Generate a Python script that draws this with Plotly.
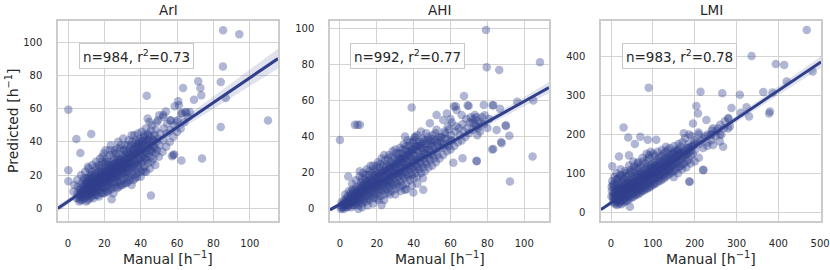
import numpy as np
import plotly.graph_objects as go

# ---------------- data ----------------
titles = ["ArI", "AHI", "LMI"]
stat_labels = ["n=984, r<sup>2</sup>=0.73", "n=992, r<sup>2</sup>=0.77", "n=983, r<sup>2</sup>=0.78"]
x_label = "Manual [h<sup>−1</sup>]"
y_label = "Predicted [h<sup>−1</sup>]"

ari_points = [
    (3,10),(3.5,14),(4.8,6),(5.2,9),(5.5,13),(5,17),(6.2,4),(6,8),(6.5,11),(7,7),(7.3,10),(6.8,12),(7.5,15),(7.2,20),
    (8,5),(8.3,9),(8.1,13),(8.6,11),(8.4,17),(9,6),(9.2,8),(9.5,12),(9.1,14),(9.7,16),(9.4,22),(10,7),(10.3,10),(10.6,12),
    (10.2,15),(10.8,18),(10.5,11),(11,5),(11.3,9),(11.5,13),(11.2,16),(11.7,20),(11.4,24),(12,8),(12.3,11),(12.6,14),
    (12.2,17),(12.8,12),(12.5,19),(13,7),(13.2,10),(13.5,13),(13.3,15),(13.7,18),(13.1,22),(13.4,26),(14,9),(14.3,12),
    (14.6,14),(14.2,17),(14.8,20),(14.5,16),(15,8),(15.2,11),(15.5,15),(15.3,13),(15.8,18),(15.1,21),(15.6,25),(15.4,28),
    (16,10),(16.3,13),(16.6,16),(16.2,19),(16.8,22),(16.5,14),(17,7),(17.3,12),(17.5,15),(17.2,17),(17.8,20),(17.4,24),
    (17.6,30),(18,11),(18.3,14),(18.6,17),(18.2,19),(18.8,22),(18.5,26),(18.4,16),(19,9),(19.2,13),(19.5,18),(19.3,21),
    (19.7,24),(19.1,28),(19.6,33),(20,12),(20.3,15),(20.6,17),(20.2,20),(20.8,23),(20.5,19),(20.4,27),(20.7,35),(21,10),
    (21.3,14),(21.5,18),(21.2,22),(21.8,25),(21.4,30),(22,13),(22.3,16),(22.6,19),(22.2,21),(22.8,24),(22.5,28),(22.4,17),
    (23,11),(23.2,15),(23.5,20),(23.3,23),(23.7,26),(23.1,32),(23.6,38),(24,14),(24.3,18),(24.6,21),(24.2,25),(24.8,28),
    (24.5,22),(25,9),(25.3,16),(25.5,19),(25.2,23),(25.8,27),(25.4,30),(25.6,35),(26,15),(26.3,18),(26.6,22),(26.2,24),
    (26.8,29),(26.5,33),(26.4,20),(27,12),(27.3,17),(27.5,21),(27.2,25),(27.8,28),(27.4,31),(27.6,40),(28,16),(28.3,20),
    (28.6,23),(28.2,26),(28.8,30),(28.5,36),(29,14),(29.3,19),(29.5,24),(29.2,27),(29.8,32),(29.4,22),(30,17),(30.3,21),
    (30.6,25),(30.2,28),(30.8,31),(30.5,35),(30.4,42),(31,15),(31.3,20),(31.5,24),(31.2,27),(31.8,33),(31.4,38),(32,18),
    (32.3,22),(32.6,26),(32.2,29),(32.8,34),(32.5,25),(33,16),(33.3,21),(33.5,27),(33.2,30),(33.8,36),(33.4,41),(34,19),
    (34.3,24),(34.6,28),(34.2,32),(34.8,38),(34.5,26),(35,14),(35.3,22),(35.5,27),(35.2,31),(35.8,35),(35.4,40),(36,20),
    (36.3,25),(36.6,29),(36.2,33),(36.8,37),(36.5,44),(37,18),(37.3,23),(37.5,28),(37.2,32),(37.8,36),(37.4,41),(38,21),
    (38.3,26),(38.6,30),(38.2,34),(38.8,39),(38.5,45),(39,24),(39.3,29),(39.5,33),(39.2,37),(39.8,42),(40,19),(40.3,27),
    (40.6,31),(40.2,35),(40.8,40),(40.5,46),(41,23),(41.3,28),(41.5,32),(41.2,38),(41.8,43),(42,25),(42.3,30),(42.6,34),
    (42.2,39),(42.8,48),(43,22),(43.3,29),(43.5,36),(43.2,41),(43.8,45),(44,27),(44.3,33),(44.6,38),(44.2,44),(44.8,52),
    (45,24),(45.3,31),(45.5,35),(45.2,40),(45.8,47),(46,28),(46.3,34),(46.6,42),(46.2,50),(47,30),(47.3,37),(47.5,44),
    (48,26),(48.3,33),(48.6,40),(48.2,47),(49,35),(49.3,42),(49.5,53),(50,31),(50.3,38),(50.6,45),(50.2,56),(52,34),
    (52.3,41),(52.6,48),(52.4,55),(54,37),(54.3,45),(54.6,51),(56,40),(56.3,47),(56.4,53),(58,43),(58.5,50),(60,46),
    (60.4,53),(62,48),(62.5,57),(64,52),(64.5,58),(66,55),
    # denser core
    (6,6),(7,9),(8,7),(8.8,10),(9.8,9),(10.4,13),(11.1,11),(11.8,14),(12.4,9),(12.9,16),(13.6,11),(14.1,15),(14.7,11),
    (15.3,17),(15.9,14),(16.4,18),(16.9,12),(17.3,19),(17.9,16),(18.1,21),(18.7,13),(19.2,19),(19.8,16),(20.1,22),
    (20.9,18),(21.4,20),(21.9,16),(22.1,23),(22.7,26),(23.3,18),(23.9,21),(24.1,24),(24.7,19),(25.1,26),(25.7,21),
    (26.1,27),(26.7,25),(27.1,19),(27.9,23),(28.1,28),(28.7,24),(29.1,29),(29.7,26),(30.1,24),(30.9,29),(31.1,22),
    (31.6,30),(32.1,27),(32.9,31),(33.1,24),(33.7,33),(34.1,30),(34.9,34),(35.1,25),(35.9,32),(36.1,36),(36.9,27),
    (37.1,39),(37.9,33),(38.1,37),(38.9,28),(39.1,40),(39.9,35),(40.1,38),(40.9,33),(41.1,41),(41.9,36),(42.1,44),
    (42.9,31),(43.1,39),(44.1,41),(44.9,35),(45.1,43),(46.1,38),(47.1,41),(48.1,36),(15,23),(17,26),(19,31),(21,28),
    (23,35),(25,33),(27,36),(29,38),(31,35),(33,38),(35,44),(13,20),(11,18),(9,18),(10,4),(12,6),(14,6),(16,8),(18,9),
    (20,9),(22,10),(24,12),(26,13),(28,13),(30,14),(32,15),(34,17),(36,17),(38,19),(40,22),(42,22),
    # outliers
    (85.3,107.2),(94.2,104.8),(85.2,85.4),(71.6,76.5),(84,76),(63.3,72.5),(72.8,72.5),(73.3,68),(86.8,66.4),(69.3,65.4),
    (60.6,64.4),(58.7,61.4),(110,52.8),(84,49),(58.4,32.3),(62.4,28.7),(73.7,29.9),(57.2,31.3),(0.2,59.4),(43.3,67.8),
    (12.8,44.7),(4.6,41.7),(6.8,33.3),(0.2,22.9),(0.2,16.2),(45.6,7.6),(53.8,58.2),(43.8,54),(48.8,51.6),(52.4,56.2),
    (56.4,52.8),(59.7,52.2),(62.5,57.2),(65.2,57.6),(57.9,32.1),(6.8,5),(11,8),(24,5.4),(11,25),(67,58),(61,62),
]

ahi_points = [
    (0.5,0),(0.8,2),(1,4),(1.5,1),(2,0),(2.2,3),(2.5,5),(2.8,8),(3,1),(3.3,2),(3.6,6),(4,1),(4.2,3),(4.5,5),(4.3,7),
    (4.8,10),(5,2),(5.5,4),(5.3,6),(5.8,9),(6,1),(6.2,3),(6.5,5),(6.3,8),(6.8,11),(6.6,14),(7,2),(7.4,4),(7.7,7),(7.2,10),
    (8,2),(8.2,4),(8.5,6),(8.3,9),(8.8,12),(8.6,16),(9,3),(9.3,5),(9.6,8),(9.2,11),(10,2),(10.2,5),(10.5,7),(10.3,10),
    (10.8,13),(10.6,18),(11,4),(11.4,6),(11.7,9),(11.2,12),(11.5,15),(12,3),(12.2,6),(12.5,9),(12.3,11),(12.8,14),
    (12.6,20),(13,5),(13.4,8),(13.7,10),(13.2,13),(13.5,17),(14,4),(14.2,7),(14.5,10),(14.3,13),(14.8,16),(14.6,22),
    (15,6),(15.4,9),(15.7,12),(15.2,15),(15.5,19),(16,5),(16.2,8),(16.5,11),(16.3,14),(16.8,17),(16.6,24),(17,7),
    (17.4,10),(17.7,13),(17.2,16),(17.5,20),(18,6),(18.2,9),(18.5,12),(18.3,15),(18.8,19),(18.6,22),(19,8),(19.4,11),
    (19.7,14),(19.2,17),(19.5,21),(20,6),(20.2,10),(20.5,13),(20.3,16),(20.8,20),(20.6,26),(21,9),(21.4,12),(21.7,15),
    (21.2,18),(21.5,23),(22,7),(22.2,11),(22.5,14),(22.3,17),(22.8,21),(22.6,28),(23,10),(23.4,13),(23.7,16),(23.2,19),
    (23.5,24),(24,8),(24.2,12),(24.5,15),(24.3,19),(24.8,23),(24.6,27),(25,11),(25.4,14),(25.7,17),(25.2,21),(25.5,25),
    (26,9),(26.2,13),(26.5,16),(26.3,20),(26.8,24),(26.6,30),(27,12),(27.4,15),(27.7,18),(27.2,22),(27.5,26),(28,10),
    (28.2,14),(28.5,18),(28.3,21),(28.8,25),(28.6,32),(29,13),(29.4,17),(29.7,20),(29.2,23),(29.5,28),(30,11),(30.2,15),
    (30.5,19),(30.3,23),(30.8,27),(30.6,31),(31,14),(31.4,18),(31.7,21),(31.2,25),(31.5,29),(32,12),(32.2,16),(32.5,20),
    (32.3,24),(32.8,28),(32.6,34),(33,15),(33.4,19),(33.7,23),(33.2,26),(33.5,31),(34,13),(34.2,18),(34.5,22),(34.3,26),
    (34.8,30),(34.6,36),(35,17),(35.4,21),(35.7,25),(35.2,28),(35.5,33),(36,14),(36.2,19),(36.5,23),(36.3,27),(36.8,32),
    (36.6,38),(37,18),(37.4,22),(37.7,26),(37.2,30),(37.5,35),(38,16),(38.2,20),(38.5,24),(38.3,29),(38.8,33),(39,19),
    (39.4,23),(39.7,27),(39.2,31),(39.5,37),(40,17),(40.2,22),(40.5,26),(40.3,30),(40.8,35),(40.6,40),(41,20),(41.4,24),
    (41.7,28),(41.2,33),(42,18),(42.2,23),(42.5,27),(42.3,32),(42.8,37),(43,22),(43.4,26),(43.7,30),(43.2,35),(44,20),
    (44.2,25),(44.5,29),(44.3,34),(44.8,39),(45,23),(45.5,28),(45.3,33),(46,21),(46.2,26),(46.5,31),(46.3,36),(46.8,42),
    (47,25),(47.5,30),(47.3,38),(48,23),(48.2,28),(48.5,33),(48.8,38),(49,27),(49.5,35),(50,24),(50.3,30),(50.6,35),
    (50.2,41),(51,28),(51.5,38),(52,26),(52.3,32),(52.6,37),(52.4,44),(53,30),(53.5,40),(54,28),(54.3,34),(54.6,40),
    (55,36),(56,30),(56.3,36),(56.6,43),(57,39),(58,32),(58.3,39),(58.6,46),(59,35),(60,33),(60.3,41),(60.6,48),(61,38),
    (62,35),(62.5,43),(63,46),(64,37),(64.5,45),(65,41),(66,38),(66.5,47),(67,43),(68,40),(68.5,50),(69,45),(70,42),
    (70.5,48),(71,51),(72,44),(72.5,50),(73,47),(74,46),(74.5,41),(75,49),(76,43),(76.5,48),(77,51),(78,47),(78.5,52),
    (80,45),(81,50),
    # denser core
    (1,1),(1.8,3),(2.6,2),(3.4,4),(3.9,3),(4.6,2),(5.2,5),(5.9,4),(6.4,7),(7.1,5),(7.8,6),(8.4,8),(9.1,7),(9.8,10),
    (10.4,9),(11.1,8),(11.8,11),(12.4,13),(13.1,11),(13.8,12),(14.4,15),(15.1,11),(15.8,14),(16.4,16),(17.1,12),
    (17.8,15),(18.4,18),(19.1,13),(19.8,17),(20.4,18),(21.1,14),(21.8,19),(22.4,20),(23.1,15),(23.8,21),(24.4,21),
    (25.1,16),(25.8,20),(26.4,22),(27.1,17),(27.8,23),(28.4,24),(29.1,19),(29.8,24),(30.4,25),(31.1,20),(31.8,26),
    (32.4,27),(33.1,21),(33.8,28),(34.4,28),(35.1,23),(35.8,29),(36.4,30),(37.1,24),(37.8,31),(38.4,32),(39.1,26),
    (39.8,33),(40.4,33),(41.1,27),(41.8,35),(42.4,35),(43.1,29),(43.8,36),(44.4,37),(45.1,31),(45.8,38),(46.4,34),
    (47.1,33),(47.8,40),(48.4,36),(49.1,31),(49.8,39),(50.4,37),(51.1,33),(51.8,42),(53.1,36),(54.1,38),(55.1,40),
    (56.1,34),(57.1,42),(58.1,36),(59.1,44),(60.1,38),(12,17),(14,19),(16,21),(18,24),(20,24),(22,25),(24,30),(26,28),
    (28,29),(30,33),(32,31),(34,33),(36,35),(38,37),(40,38),(42,41),(44,43),(10,0),(12,1),(15,2),(18,3),(21,5),(24,5),
    (27,8),(30,8),(33,10),(36,11),(39,13),(42,14),(45,17),
    # outliers
    (79.2,99.4),(79.6,78.7),(86.4,77.2),(108.5,81.5),(0,38.3),(8.1,46.7),(9.5,46.7),(10.8,46.7),(38.9,56.3),(67.3,62.8),
    (96.2,59.6),(104.9,60.2),(104.5,29.1),(92.2,15.2),(74.1,26.7),(83.2,33.3),(87.7,36.5),(91.9,40.6),(90,46.1),(85,43.9),
    (78,57.8),(82.8,57.6),(86.8,55.6),(73.2,52.2),(69.8,57.2),(61.8,56.9),(63.3,55),(66,52.2),(52.4,52.2),(56,49.4),
    (48.8,47.6),(35.3,40.2),(40.7,39.8),(61.5,25.7),(66.5,28.1),(45.2,10.6),(39.8,9.1),(35.3,10.6),(22.6,2.2),(4.5,18),
    (10.8,20.9),(62.8,57),(69.3,57.6),(83.2,57.6),(89.9,46.5),(87.4,37.2),(82.6,33),(74.2,26.5),(72,48),(75,45),(74,51),
    (60,50),(58,53),
]

lmi_points = [
    (1,40),(2,55),(1.5,65),(3,80),(4,70),(5,25),(6,35),(5.5,48),(7,60),(6.5,72),(8,90),(10,20),(11,30),(9.5,42),(12,55),
    (10.5,68),(11.5,82),(13,100),(15,18),(16,28),(14.5,38),(17,50),(15.5,62),(16.5,75),(18,88),(20,22),(21,33),(19.5,45),
    (22,58),(20.5,70),(21.5,95),(23,110),(25,20),(26,30),(24.5,40),(27,52),(25.5,65),(26.5,78),(28,90),(30,25),(31,36),
    (29.5,48),(32,60),(30.5,72),(31.5,85),(33,105),(35,28),(36,40),(34.5,52),(37,64),(35.5,76),(36.5,92),(40,30),(41,42),
    (39.5,55),(42,68),(40.5,80),(41.5,98),(43,120),(45,14),(46,35),(44.5,47),(47,59),(45.5,71),(46.5,84),(48,102),(50,38),
    (51,50),(49.5,62),(52,75),(50.5,88),(51.5,110),(53,130),(55,40),(56,53),(54.5,65),(57,78),(55.5,92),(56.5,105),(60,44),
    (61,56),(59.5,68),(62,80),(60.5,95),(61.5,115),(63,125),(65,46),(66,58),(64.5,72),(67,85),(65.5,98),(66.5,112),(70,50),
    (71,62),(69.5,75),(72,88),(70.5,102),(71.5,120),(75,54),(76,66),(74.5,79),(77,92),(75.5,106),(76.5,130),(80,56),
    (81,70),(79.5,83),(82,96),(80.5,110),(81.5,125),(85,60),(86,73),(84.5,86),(87,100),(85.5,115),(86.5,135),(90,62),
    (91,76),(89.5,90),(92,104),(90.5,118),(91.5,140),(95,66),(96,80),(94.5,94),(97,108),(95.5,122),(100,70),(101,84),
    (99.5,98),(102,112),(100.5,126),(101.5,150),(105,72),(106,86),(104.5,100),(107,115),(105.5,130),(110,76),(111,90),
    (109.5,104),(112,118),(110.5,135),(111.5,155),(115,80),(116,94),(114.5,108),(117,122),(115.5,140),(120,82),(121,96),
    (119.5,110),(122,125),(120.5,145),(121.5,160),(125,86),(126,100),(124.5,114),(127,130),(125.5,150),(130,90),(131,104),
    (129.5,118),(132,134),(130.5,155),(131.5,168),(135,94),(136,108),(134.5,122),(137,138),(135.5,160),(140,98),(141,112),
    (139.5,126),(142,142),(140.5,165),(145,102),(146,116),(144.5,130),(147,148),(150,90),(151,106),(149.5,120),(152,135),
    (150.5,152),(151.5,170),(155,110),(156,124),(154.5,140),(157,158),(160,100),(161,114),(159.5,128),(162,145),(160.5,162),
    (161.5,175),(165,118),(166,132),(164.5,150),(167,168),(170,110),(171,122),(169.5,138),(172,155),(170.5,180),(175,125),
    (176,142),(174.5,160),(177,190),(180,115),(181,130),(179.5,148),(182,165),(185,135),(186,155),(184.5,175),(187,200),
    (190,125),(191,145),(189.5,168),(192,195),(195,150),(196,172),(200,130),(201,160),(199.5,185),(210,140),(211,175),
    (209,205),(220,165),(221,190),(230,170),(231,200),(240,185),(241,210),(250,195),(260,200),(261,225),(280,215),(281,240),
    # denser core
    (5,40),(8,50),(10,35),(12,45),(14,58),(16,40),(18,52),(20,65),(22,40),(24,55),(26,60),(28,45),(30,58),(32,70),(34,45),
    (36,60),(38,75),(40,50),(42,62),(44,75),(46,55),(48,68),(50,80),(52,60),(54,72),(56,85),(58,62),(60,75),(62,90),(64,68),
    (66,80),(68,95),(70,70),(72,82),(74,98),(76,75),(78,88),(80,100),(82,78),(84,92),(86,105),(88,82),(90,96),(92,112),
    (94,86),(96,100),(98,115),(100,90),(102,104),(104,120),(106,94),(108,108),(110,122),(112,98),(114,112),(116,128),
    (118,102),(120,116),(122,132),(124,106),(126,120),(128,138),(130,112),(132,126),(134,142),(136,115),(138,130),(140,148),
    (142,120),(144,136),(146,152),(148,125),(150,140),(152,158),(155,130),(158,145),(160,155),(163,138),(166,152),(170,145),
    (174,150),(178,158),(182,150),(186,165),(190,158),(195,168),(200,175),(205,180),(215,185),(225,195),(15,85),(25,95),
    (35,100),(45,108),(55,118),(65,128),(75,140),(85,150),(95,155),(105,145),(12,25),(22,28),(32,32),(42,38),(52,45),
    (62,50),(72,55),(82,62),(92,68),(102,75),(115,88),(128,95),(140,105),
    # outliers
    (468,469),(336,402),(394,381),(414,379),(482,362),(420,336),(386,308),(364,309),(380,259),(378,254),(330,246),
    (310,256),(308,302),(266,306),(214,310),(204,273),(208,254),(90,320),(30,218),(41,192),(57,175),(70,194),(88,186),
    (108,186),(288,268),(324,270),(270,216),(268,168),(220,108),(188,78),(174,203),(196,228),(228,237),(244,216),(19,143),
    (43,146),(91,146),(3,118),(221,109),(187,79),(280,242),(272,234),(284,221),(252,208),(264,199),(244,173),(260,182),
    (238,199),(255,215),(240,200),(230,180),(210,200),
]

slopes = [0.745, 0.572, 0.722]
intercepts = [4.1, 2.6, 24.0]
ci_center_x = [25.0, 28.0, 90.0]
ci_center_halfwidth = [0.6, 0.3, 2.0]
ci_edge_halfwidth = [6.0, 3.0, 15.0]

x_ranges = [[-5.5, 115.5], [-5.4, 113.4], [-24, 502]]
y_ranges = [[-7.7, 112.8], [-6.7, 104.4], [-23, 492]]
x_ticks = [[0, 20, 40, 60, 80, 100], [0, 20, 40, 60, 80, 100], [0, 100, 200, 300, 400, 500]]
y_ticks = [[0, 20, 40, 60, 80, 100], [0, 20, 40, 60, 80, 100], [0, 100, 200, 300, 400]]

# ---------------- styling ----------------
FONT = "DejaVu Sans"
BASE = "rgb(48,63,140)"
PT = "rgba(48,63,140,0.38)"
BAND = "rgba(48,63,140,0.15)"
GRID = "#d3d3d3"
TXT = "#262626"
W, H = 830, 270
x_px = [(58, 278), (330, 549), (601, 821)]
y_px = (21, 221)

fig = go.Figure()
all_points = [ari_points, ahi_points, lmi_points]

for i in range(3):
    xa = "x" if i == 0 else f"x{i+1}"
    ya = "y" if i == 0 else f"y{i+1}"
    pts = all_points[i]
    mx = [p[0] for p in pts]
    my = [p[1] for p in pts]
    fig.add_trace(go.Scatter(x=mx, y=my, mode="markers", xaxis=xa, yaxis=ya,
                             marker=dict(size=8.5, color=PT, line=dict(width=0)),
                             showlegend=False, hoverinfo="skip"))
    xr = x_ranges[i]
    gx = np.linspace(xr[0], xr[1], 120)
    gy = intercepts[i] + slopes[i] * gx
    hw = np.sqrt(ci_center_halfwidth[i] ** 2 +
                 ((gx - ci_center_x[i]) / (xr[1] - ci_center_x[i])) ** 2 *
                 (ci_edge_halfwidth[i] ** 2 - ci_center_halfwidth[i] ** 2))
    fig.add_trace(go.Scatter(x=np.concatenate([gx, gx[::-1]]),
                             y=np.concatenate([gy + hw, (gy - hw)[::-1]]),
                             fill="toself", fillcolor=BAND, line=dict(width=0),
                             mode="lines", xaxis=xa, yaxis=ya, showlegend=False, hoverinfo="skip"))
    fig.add_trace(go.Scatter(x=gx, y=gy, mode="lines", xaxis=xa, yaxis=ya,
                             line=dict(color=BASE, width=3), showlegend=False, hoverinfo="skip"))

layout = dict(
    width=W, height=H, margin=dict(l=0, r=0, t=0, b=0, autoexpand=False),
    paper_bgcolor="white", plot_bgcolor="white",
    font=dict(family=FONT, color=TXT, size=10),
    annotations=[],
)
yd = [(H - y_px[1]) / H, (H - y_px[0]) / H]
for i in range(3):
    xk = "xaxis" if i == 0 else f"xaxis{i+1}"
    yk = "yaxis" if i == 0 else f"yaxis{i+1}"
    ya = "y" if i == 0 else f"y{i+1}"
    xa = "x" if i == 0 else f"x{i+1}"
    common = dict(showgrid=True, gridcolor=GRID, gridwidth=1, zeroline=False,
                  showline=True, linecolor="#cccccc", linewidth=1.5, mirror=True,
                  ticks="", tickfont=dict(size=10, color=TXT), ticklabelstandoff=12,
                  automargin=False)
    layout[xk] = dict(domain=[x_px[i][0] / W, x_px[i][1] / W], range=x_ranges[i],
                      tickvals=x_ticks[i], anchor=ya, **common)
    layout[yk] = dict(domain=yd, range=y_ranges[i], tickvals=y_ticks[i], anchor=xa, **common)
    layout["annotations"].append(dict(
        text=titles[i], xref=f"{xa} domain", yref="paper", x=0.5, y=1 - 10 / H,
        xanchor="center", yanchor="middle", showarrow=False, font=dict(size=13.5, color=TXT)))
    layout["annotations"].append(dict(
        text=x_label, xref=f"{xa} domain", yref="paper", x=0.5, y=1 - 258 / H,
        xanchor="center", yanchor="middle", showarrow=False, font=dict(size=14, color=TXT)))
    layout["annotations"].append(dict(
        text=stat_labels[i], xref=f"{xa} domain", yref=f"{ya} domain", x=0.355, y=0.825,
        xanchor="center", yanchor="middle", showarrow=False, font=dict(size=13.5, color=TXT),
        bgcolor="rgba(255,255,255,0.85)", bordercolor="#c8c8c8", borderwidth=1, borderpad=3))

layout["annotations"].append(dict(
    text=y_label, xref="paper", yref="paper", x=12 / W, y=1 - 121 / H, textangle=-90,
    xanchor="center", yanchor="middle", showarrow=False, font=dict(size=14, color=TXT)))

fig.update_layout(**layout)
fig.write_html("out.html", config={"displayModeBar": False},
               post_script="document.body.style.margin='0px';document.body.style.padding='0px';")
